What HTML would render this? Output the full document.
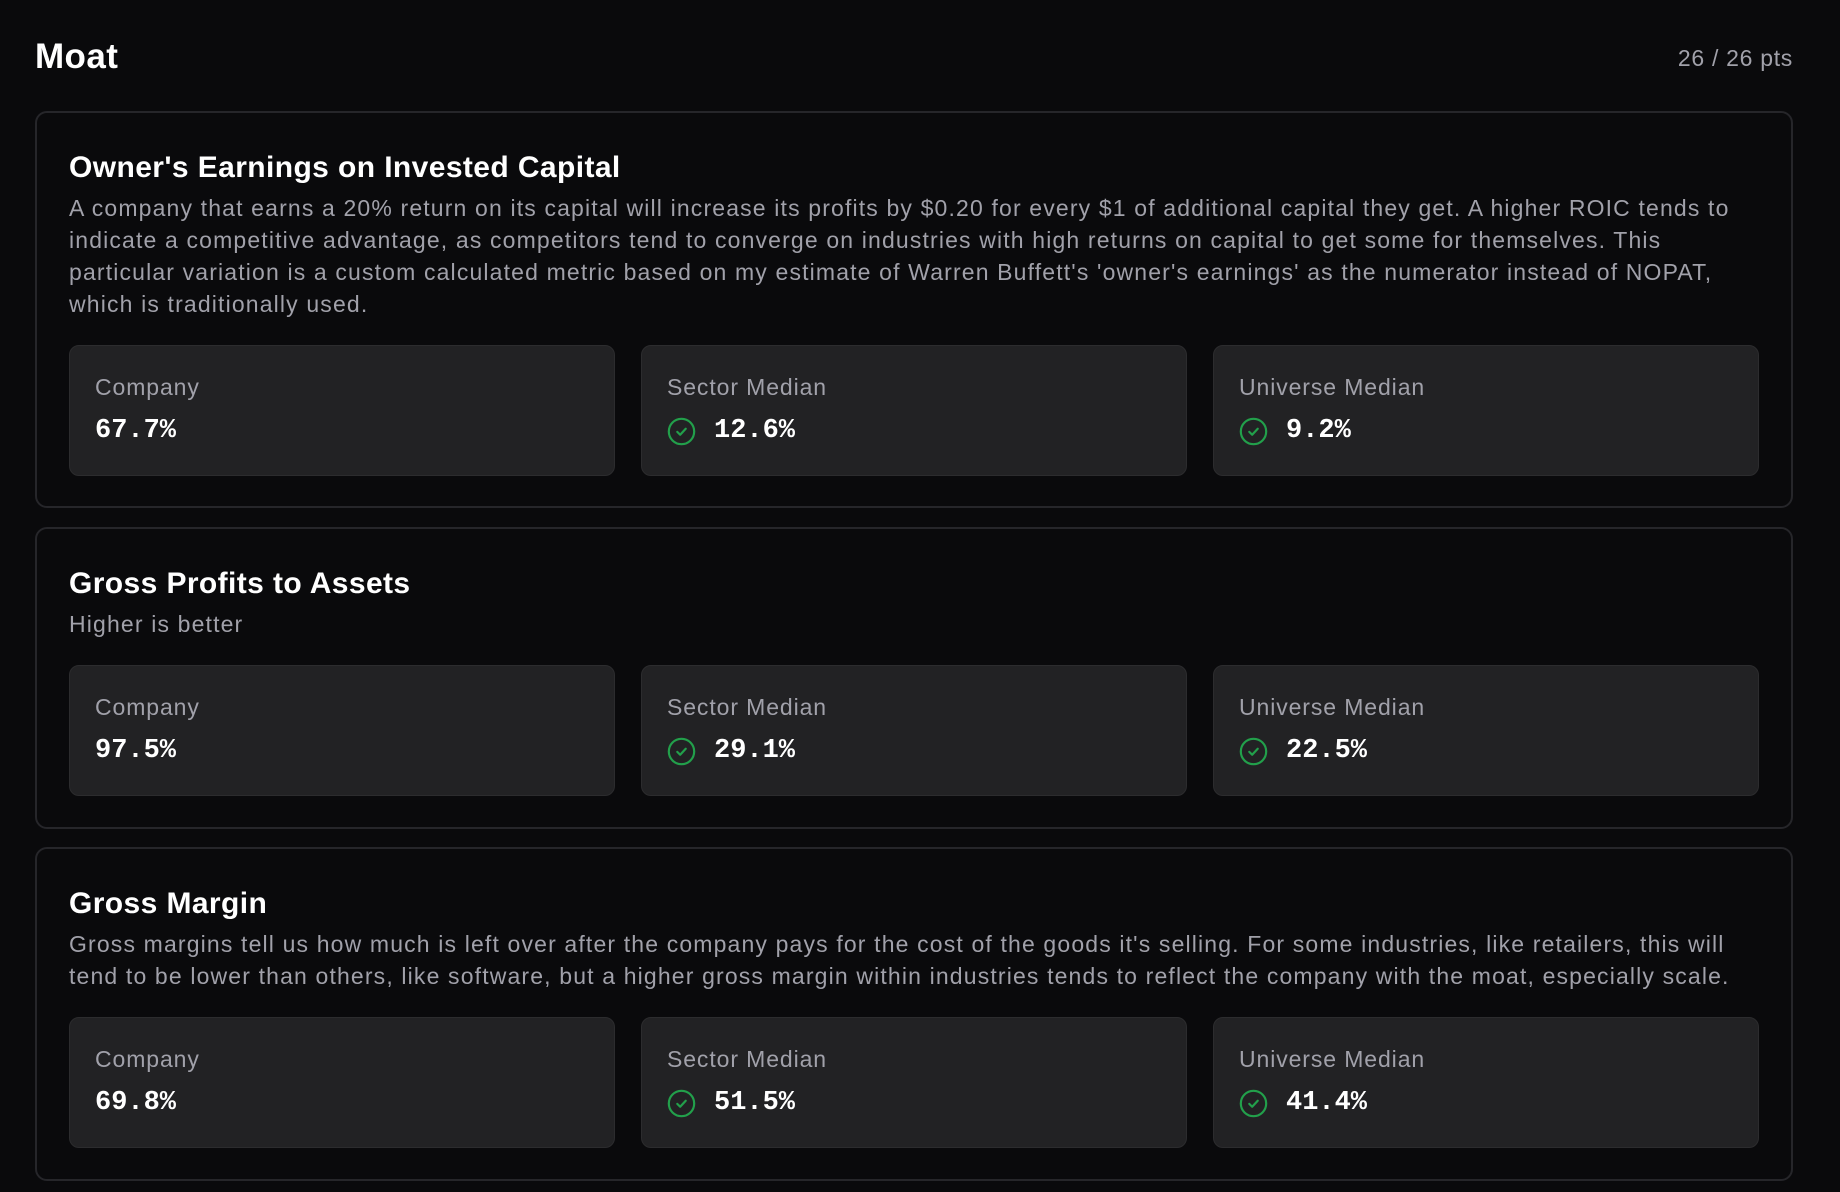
<!DOCTYPE html>
<html><head><meta charset="utf-8"><style>
*{box-sizing:border-box;margin:0;padding:0}
body{width:1840px;height:1192px;background:#0a0a0c;font-family:"Liberation Sans",sans-serif;color:#fff;position:relative;overflow:hidden}
.h{position:absolute;left:35px;top:37px;font-size:35px;font-weight:bold;letter-spacing:0.4px}
.pts{position:absolute;right:47px;top:45px;font-size:23px;color:#a1a1aa;letter-spacing:0.7px}
.card{position:absolute;left:35px;width:1758px;border:2px solid #26262a;border-radius:12px;padding:37px 32px 31px}
.t{font-size:30px;line-height:36px;font-weight:bold;letter-spacing:0.4px}
.d{margin-top:6px;font-size:23px;line-height:32px;color:#a1a1aa;letter-spacing:1.15px;white-space:nowrap}
.row{margin-top:25px;display:flex;gap:26px}
.b{flex:1;height:131px;background:#222224;border:1.5px solid #2c2c2e;border-radius:10px;padding:0 25px;position:relative}
.l{position:absolute;top:28px;left:25px;font-size:23px;color:#a1a1aa;letter-spacing:0.9px}
.v{position:absolute;top:70px;left:25px;font-family:"Liberation Mono",monospace;font-weight:bold;font-size:27px;display:flex;align-items:center;gap:18px}
.v svg{display:block}
</style></head><body>
<div class="h">Moat</div>
<div class="pts">26 / 26 pts</div>

<div class="card" style="top:111px;height:397px">
<div class="t">Owner's Earnings on Invested Capital</div>
<div class="d">A company that earns a 20% return on its capital will increase its profits by $0.20 for every $1 of additional capital they get. A higher ROIC tends to<br>indicate a competitive advantage, as competitors tend to converge on industries with high returns on capital to get some for themselves. This<br>particular variation is a custom calculated metric based on my estimate of Warren Buffett's 'owner's earnings' as the numerator instead of NOPAT,<br>which is traditionally used.</div>
<div class="row">
<div class="b"><div class="l">Company</div><div class="v">67.7%</div></div>
<div class="b"><div class="l">Sector Median</div><div class="v"><svg width="29" height="29" viewBox="0 0 24 24"><circle cx="12" cy="12" r="10.5" fill="none" stroke="#22a04b" stroke-width="1.8"/><path d="M8.5 12.3l2.4 2.4 4.6-5" fill="none" stroke="#22a04b" stroke-width="1.8" stroke-linecap="round" stroke-linejoin="round"/></svg>12.6%</div></div>
<div class="b"><div class="l">Universe Median</div><div class="v"><svg width="29" height="29" viewBox="0 0 24 24"><circle cx="12" cy="12" r="10.5" fill="none" stroke="#22a04b" stroke-width="1.8"/><path d="M8.5 12.3l2.4 2.4 4.6-5" fill="none" stroke="#22a04b" stroke-width="1.8" stroke-linecap="round" stroke-linejoin="round"/></svg>9.2%</div></div>
</div></div>

<div class="card" style="top:527px;height:302px">
<div class="t">Gross Profits to Assets</div>
<div class="d">Higher is better</div>
<div class="row">
<div class="b"><div class="l">Company</div><div class="v">97.5%</div></div>
<div class="b"><div class="l">Sector Median</div><div class="v"><svg width="29" height="29" viewBox="0 0 24 24"><circle cx="12" cy="12" r="10.5" fill="none" stroke="#22a04b" stroke-width="1.8"/><path d="M8.5 12.3l2.4 2.4 4.6-5" fill="none" stroke="#22a04b" stroke-width="1.8" stroke-linecap="round" stroke-linejoin="round"/></svg>29.1%</div></div>
<div class="b"><div class="l">Universe Median</div><div class="v"><svg width="29" height="29" viewBox="0 0 24 24"><circle cx="12" cy="12" r="10.5" fill="none" stroke="#22a04b" stroke-width="1.8"/><path d="M8.5 12.3l2.4 2.4 4.6-5" fill="none" stroke="#22a04b" stroke-width="1.8" stroke-linecap="round" stroke-linejoin="round"/></svg>22.5%</div></div>
</div></div>

<div class="card" style="top:847px;height:334px">
<div class="t">Gross Margin</div>
<div class="d">Gross margins tell us how much is left over after the company pays for the cost of the goods it's selling. For some industries, like retailers, this will<br>tend to be lower than others, like software, but a higher gross margin within industries tends to reflect the company with the moat, especially scale.</div>
<div class="row">
<div class="b"><div class="l">Company</div><div class="v">69.8%</div></div>
<div class="b"><div class="l">Sector Median</div><div class="v"><svg width="29" height="29" viewBox="0 0 24 24"><circle cx="12" cy="12" r="10.5" fill="none" stroke="#22a04b" stroke-width="1.8"/><path d="M8.5 12.3l2.4 2.4 4.6-5" fill="none" stroke="#22a04b" stroke-width="1.8" stroke-linecap="round" stroke-linejoin="round"/></svg>51.5%</div></div>
<div class="b"><div class="l">Universe Median</div><div class="v"><svg width="29" height="29" viewBox="0 0 24 24"><circle cx="12" cy="12" r="10.5" fill="none" stroke="#22a04b" stroke-width="1.8"/><path d="M8.5 12.3l2.4 2.4 4.6-5" fill="none" stroke="#22a04b" stroke-width="1.8" stroke-linecap="round" stroke-linejoin="round"/></svg>41.4%</div></div>
</div></div>
</body></html>
